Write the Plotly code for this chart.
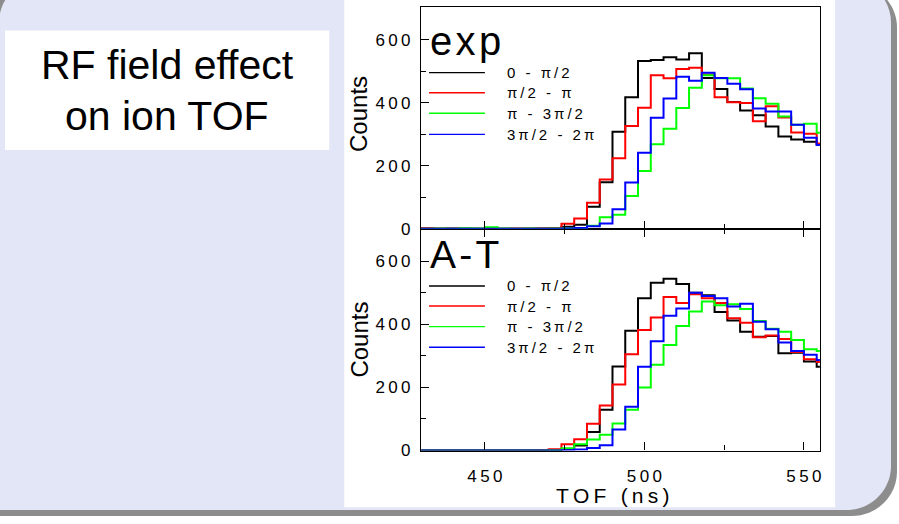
import plotly.graph_objects as go

# ---------------- data ----------------
TOF_BINS = [430, 434, 438, 442, 446, 450, 454, 458, 462, 466, 470, 474, 478, 482, 486, 490,
            494, 498, 502, 506, 510, 514, 518, 522, 526, 530, 534, 538, 542, 546, 550, 554]

SERIES_NAMES = ["0 - π/2", "π/2 - π", "π - 3π/2", "3π/2 - 2π"]
SERIES_COLORS = ["#000000", "#ff0000", "#00ff00", "#0000ff"]

EXP_0 = [1, 0, 1, 0, 0, 1, 0, 0, 0, 1, 2,
         7, 13, 70, 148, 308, 418, 533, 536, 545, 538, 558, 479, 444, 403, 376, 361, 325, 293, 284, 277, 268]
EXP_1 = [2, 1, 0, 1, 0, 0, 0, 1, 1, 1, 2,
         16, 33, 83, 157, 224, 327, 385, 488, 478, 508, 512, 490, 418, 402, 400, 342, 389, 354, 306, 302, 271]
EXP_2 = [0, 1, 0, 2, 1, 5, 1, 0, 1, 0, 1,
         1, 3, 10, 37, 45, 104, 184, 269, 318, 384, 448, 488, 478, 478, 446, 415, 397, 357, 331, 334, 305]
EXP_3 = [0, 0, 0, 0, 0, 0, 0, 0, 0, 0, 0,
         1, 3, 8, 17, 62, 147, 242, 353, 414, 483, 470, 496, 479, 461, 443, 382, 373, 373, 331, 289, 266]

AT_0 = [0, 0, 0, 0, 0, 0, 0, 0, 0, 0, 2,
        5, 16, 59, 129, 266, 379, 482, 531, 544, 527, 500, 492, 439, 412, 376, 360, 363, 308, 310, 282, 265]
AT_1 = [0, 0, 0, 0, 0, 0, 0, 0, 0, 1, 4,
        20, 36, 85, 143, 209, 305, 382, 421, 486, 467, 495, 482, 467, 419, 405, 359, 364, 353, 312, 289, 280]
AT_2 = [0, 0, 0, 0, 0, 0, 0, 0, 0, 0, 1,
        7, 20, 35, 50, 86, 129, 200, 272, 334, 394, 440, 472, 460, 463, 448, 410, 386, 376, 350, 321, 315]
AT_3 = [0, 0, 0, 0, 0, 0, 0, 0, 0, 0, 0,
        1, 3, 8, 17, 67, 139, 265, 346, 427, 450, 500, 489, 482, 456, 465, 408, 384, 342, 315, 303, 287]

EXP_SERIES = [EXP_0, EXP_1, EXP_2, EXP_3]
AT_SERIES = [AT_0, AT_1, AT_2, AT_3]

Y_TICKS = [0, 200, 400, 600]
Y_MINOR = [100, 300, 500]
X_TICKS = [450, 500, 550]
X_MINOR = [475, 525]

TITLE_LINES = ["RF field effect", "on ion TOF"]
PANEL_LABELS = ["exp", "A-T"]
Y_TITLE = "Counts"
X_TITLE = "TOF (ns)"

# ---------------- helpers ----------------
W, H = 899, 524
FONT = "Liberation Sans, Arial, Helvetica, sans-serif"
TS = "\u2009"


def spaced(s):
    return TS.join(list(s))


def X(px):
    return px / W


def Y(py):
    return 1 - py / H


def rpath(L, T, R, B, r):
    k = 0.5523 * r
    pts = [
        ("M", [(L, B)]),
        ("L", [(L, T + r)]),
        ("C", [(L, T + r - k), (L + r - k, T), (L + r, T)]),
        ("L", [(R - r, T)]),
        ("C", [(R - r + k, T), (R, T + r - k), (R, T + r)]),
        ("L", [(R, B - r)]),
        ("C", [(R, B - r + k), (R - r + k, B), (R - r, B)]),
        ("L", [(L, B)]),
    ]
    out = ""
    for cmd, ps in pts:
        out += cmd + " " + " ".join(f"{X(a):.5f},{Y(b):.5f}" for a, b in ps) + " "
    return out + "Z"


def step_xy(vals):
    xs = list(TOF_BINS) + [TOF_BINS[-1] + (TOF_BINS[1] - TOF_BINS[0])]
    ys = list(vals) + [vals[-1]]
    return xs, ys


fig = go.Figure()

for vals, name, col in zip(AT_SERIES, SERIES_NAMES, SERIES_COLORS):
    xs, ys = step_xy(vals)
    fig.add_trace(go.Scatter(x=xs, y=ys, mode="lines", line=dict(shape="hv", color=col, width=2),
                             name=name, showlegend=False, xaxis="x", yaxis="y"))
for vals, name, col in zip(EXP_SERIES, SERIES_NAMES, SERIES_COLORS):
    xs, ys = step_xy(vals)
    fig.add_trace(go.Scatter(x=xs, y=ys, mode="lines", line=dict(shape="hv", color=col, width=2),
                             name=name, showlegend=False, xaxis="x2", yaxis="y2"))

XDOM = [X(422), X(821.7)]
Y_TOP = [Y(233.3), Y(7)]
Y_BOT = [Y(459.3), Y(233.3)]

tickfont = dict(family=FONT, size=17, color="black")
common_x = dict(range=[430, 555], domain=XDOM, showline=True, linecolor="black", linewidth=1.2,
                ticks="inside", ticklen=8, tickwidth=1.2, tickcolor="black", showgrid=False, zeroline=False,
                tickvals=X_TICKS, ticktext=[spaced(str(v)) for v in X_TICKS],
                minor=dict(tickvals=X_MINOR, ticks="inside", ticklen=5, tickwidth=1.2, tickcolor="black"),
                tickfont=tickfont)
common_y = dict(showline=True, linecolor="black", linewidth=1.2, mirror=True,
                ticks="inside", ticklen=8, tickwidth=1.2, tickcolor="black", showgrid=False, zeroline=False,
                tickvals=Y_TICKS, ticktext=[spaced(str(v)) for v in Y_TICKS],
                minor=dict(tickvals=Y_MINOR, ticks="inside", ticklen=5, tickwidth=1.2, tickcolor="black"),
                tickfont=tickfont, ticklabelstandoff=6)

fig.update_layout(
    xaxis=dict(anchor="y", mirror="ticks", ticklabelstandoff=10, **common_x),
    xaxis2=dict(anchor="y2", mirror=True, showticklabels=False, **common_x),
    yaxis=dict(anchor="x", domain=Y_BOT, range=[0, 702], **common_y),
    yaxis2=dict(anchor="x2", domain=Y_TOP, range=[0, 705], **common_y),
)

shapes = [
    dict(type="path", path=rpath(-10, -17, 899, 526, 45), fillcolor="#8d8d8d", line=dict(width=0),
         xref="paper", yref="paper", layer="below"),
    dict(type="path", path=rpath(-1, -22, 893, 520, 45), fillcolor="#e3e6f7", line=dict(width=0),
         xref="paper", yref="paper", layer="below"),
    dict(type="rect", x0=X(345), x1=X(837), y0=Y(517), y1=Y(-2), fillcolor="white", line=dict(width=0),
         xref="paper", yref="paper", layer="below"),
    dict(type="rect", x0=X(5), x1=X(330), y0=Y(153), y1=Y(31), fillcolor="white", line=dict(width=0),
         xref="paper", yref="paper", layer="below"),
]

annotations = []
# legends
LEG_ROWS = {"exp": [74, 94.5, 115.5, 137], "A-T": [291.5, 312, 333, 354]}
for lbl in PANEL_LABELS:
    for row_y, name, col in zip(LEG_ROWS[lbl], SERIES_NAMES, SERIES_COLORS):
        shapes.append(dict(type="line", x0=X(430), x1=X(486), y0=Y(row_y), y1=Y(row_y),
                           xref="paper", yref="paper", line=dict(color=col, width=1.4)))
        annotations.append(dict(text=spaced(name), x=X(506), y=Y(row_y), xref="paper", yref="paper",
                                xanchor="left", yanchor="middle", showarrow=False,
                                font=dict(family=FONT, size=15, color="black")))

# panel labels
annotations.append(dict(text="e\u200ax\u200ap", x=X(429), y=Y(42), xref="paper", yref="paper",
                        xanchor="left", yanchor="middle", showarrow=False,
                        font=dict(family=FONT, size=40, color="black")))
annotations.append(dict(text="A\u200a-\u200aT", x=X(429), y=Y(259.5), xref="paper", yref="paper",
                        xanchor="left", yanchor="middle", showarrow=False,
                        font=dict(family=FONT, size=39, color="black")))
# axis titles
for cy in (116, 346):
    annotations.append(dict(text=Y_TITLE, x=X(360), y=Y(cy), xref="paper", yref="paper",
                            xanchor="center", yanchor="middle", textangle=-90, showarrow=False,
                            font=dict(family=FONT, size=24, color="black")))
annotations.append(dict(text=spaced(X_TITLE), x=X(613.5), y=Y(505), xref="paper", yref="paper",
                        xanchor="center", yanchor="middle", showarrow=False, borderpad=0,
                        font=dict(family=FONT, size=21, color="black")))
# title box text
for line, cy in zip(TITLE_LINES, (66.5, 118.5)):
    annotations.append(dict(text=line, x=X(167.5), y=Y(cy), xref="paper", yref="paper",
                            xanchor="center", yanchor="middle", showarrow=False,
                            font=dict(family=FONT, size=41, color="black")))

fig.update_layout(
    width=W, height=H, autosize=False,
    margin=dict(l=0, r=0, t=0, b=0),
    paper_bgcolor="white", plot_bgcolor="white",
    shapes=shapes, annotations=annotations, showlegend=False,
)

fig.write_html("out.html", config={"displayModeBar": False})
